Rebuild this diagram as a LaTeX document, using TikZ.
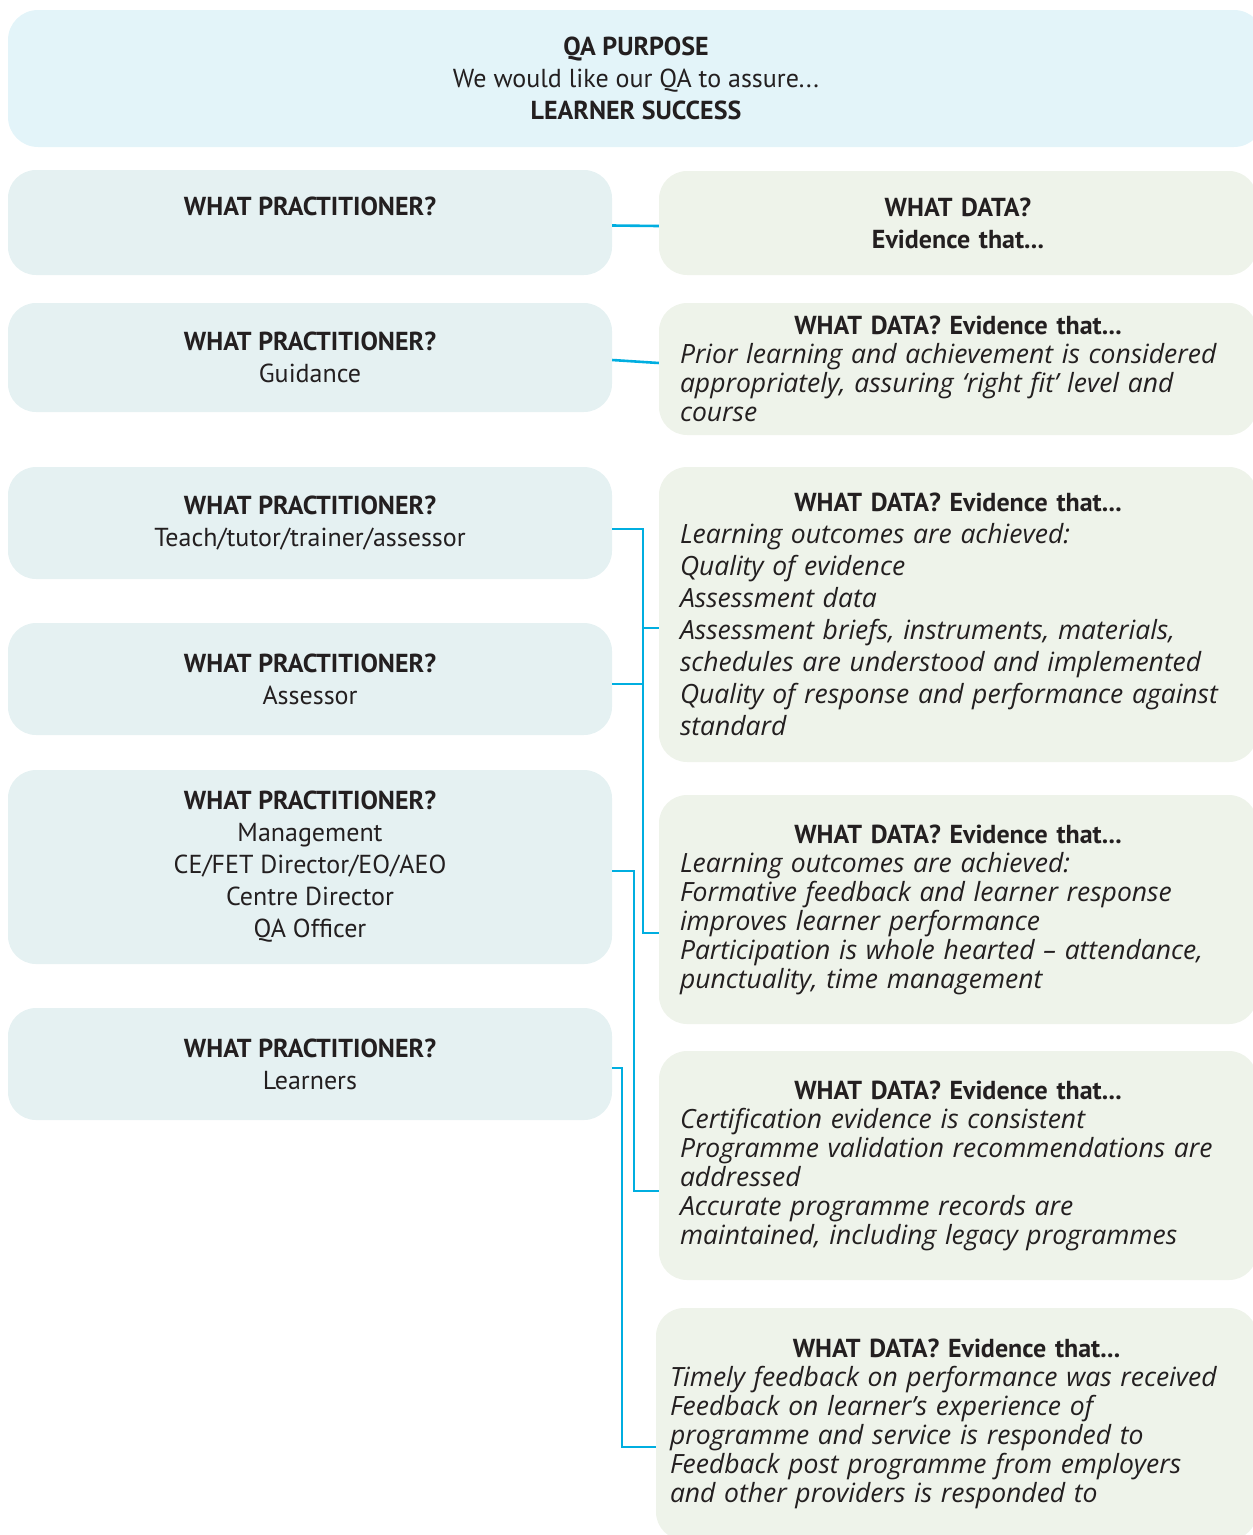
\documentclass[tikz,border=0pt]{standalone}
\usepackage{fontspec}
\usepackage{xcolor}
\usepackage{tikz}
\setmainfont{PT Sans}
\newfontfamily\handfont{Open Sans}[Ligatures=TeX]

\definecolor{purposefill}{HTML}{E3F4F9}
\definecolor{whofill}{HTML}{E5F1F2}
\definecolor{datafill}{HTML}{EEF3EA}
\definecolor{linkblue}{HTML}{00AEE0}
\definecolor{inkgrey}{HTML}{231F20}

\newcommand{\hand}{\handfont\itshape\fontsize{26.5}{29}\selectfont}

\begin{document}
\begin{tikzpicture}[x=1pt,y=-1pt,
        purpose/.style={fill=purposefill, rounded corners=30pt, minimum width=1256pt, minimum height=137pt,
            align=center, text=inkgrey, font=\fontsize{26}{32}\selectfont},
        who/.style={fill=whofill, rounded corners=28pt, minimum width=604pt,
            align=center, text=inkgrey, font=\fontsize{26}{32}\selectfont},
        data/.style={fill=datafill, rounded corners=28pt, inner xsep=21pt, text width=556pt,
            align=left, text=inkgrey, font=\fontsize{26}{32}\selectfont},
        link/.style={linkblue, line width=2.6pt}]
        \useasboundingbox (0,0) rectangle (1253,1535);
        % purpose
        \node[purpose] (purpose) at (636,78.5) {\textbf{QA PURPOSE}\\We would like our QA to assure...\\\textbf{LEARNER SUCCESS}};
        % practitioners
        \node[who, minimum height=105pt] (who1) at (310,222.5) {\textbf{WHAT PRACTITIONER?}\\ \mbox{}};
        \node[who, minimum height=109pt] (who2) at (310,357.5) {\textbf{WHAT PRACTITIONER?}\\Guidance};
        \node[who, minimum height=112pt] (who3) at (310,523) {\textbf{WHAT PRACTITIONER?}\\Teach/tutor/trainer/assessor};
        \node[who, minimum height=112pt] (who4) at (310,679) {\textbf{WHAT PRACTITIONER?}\\Assessor};
        \node[who, minimum height=194pt] (who5) at (310,867) {\textbf{WHAT PRACTITIONER?}\\Management\\CE/FET Director/EO/AEO\\Centre Director\\QA Officer};
        \node[who, minimum height=112pt] (who6) at (310,1064) {\textbf{WHAT PRACTITIONER?}\\Learners};
        % data
        \node[data, align=center, minimum height=104pt] (data1) at (958,223) {\textbf{WHAT DATA?}\\\textbf{Evidence that...}};
        \node[data, minimum height=132pt] (data2) at (958,369) {{\centering\bfseries WHAT DATA? Evidence that...\par}
            {\hand Prior learning and achievement is considered\\appropriately, assuring ‘right fit’ level and\\course\par}};
        \node[data, minimum height=295pt] (data3) at (958,614.5) {{\centering\bfseries WHAT DATA? Evidence that...\par}
            {\hand\fontsize{26.5}{32}\selectfont Learning outcomes are achieved:\\Quality of evidence\\Assessment data\\Assessment briefs, instruments, materials,\\schedules are understood and implemented\\Quality of response and performance against\\standard\par}};
        \node[data, minimum height=229pt] (data4) at (958,909.5) {{\centering\bfseries WHAT DATA? Evidence that...\par}
            {\hand Learning outcomes are achieved:\\Formative feedback and learner response\\improves learner performance\\Participation is whole hearted – attendance,\\punctuality, time management\par}};
        \node[data, minimum height=229pt] (data5) at (958,1165.5) {{\centering\bfseries WHAT DATA? Evidence that...\par}
            {\hand Certification evidence is consistent\\Programme validation recommendations are\\addressed\\Accurate programme records are\\maintained, including legacy programmes\par}};
        \node[data, inner xsep=14pt, text width=573pt, minimum height=232pt] (data6) at (956.5,1424) {{\centering\bfseries WHAT DATA? Evidence that...\par}
            {\hand Timely feedback on performance was received\\Feedback on learner’s experience of\\programme and service is responded to\\Feedback post programme from employers\\and other providers is responded to\par}};
        % links
        \draw[link] ([yshift=-3pt]who1.east) -- ([yshift=-3pt]data1.west);
        \draw[link] ([yshift=-2.5pt]who2.east) -- ([yshift=6pt]data2.west);
        \draw[link] ([yshift=-6pt]who3.east) -| ([xshift=-16pt,yshift=-23.5pt]data4.west) -- ([yshift=-23.5pt]data4.west);
        \draw[link] ([yshift=-5pt]who4.east) -- ++(31,0);
        \draw[link] ([xshift=-16pt,yshift=-13.5pt]data3.west) -- ([yshift=-13.5pt]data3.west);
        \draw[link] ([yshift=-4pt]who5.east) -| ([xshift=-25pt,yshift=-25.5pt]data5.west) -- ([yshift=-25.5pt]data5.west);
        \draw[link] ([yshift=-4pt]who6.east) -| ([xshift=-34pt,yshift=-23pt]data6.west) -- ([yshift=-23pt]data6.west);
    \end{tikzpicture}
\end{document}
